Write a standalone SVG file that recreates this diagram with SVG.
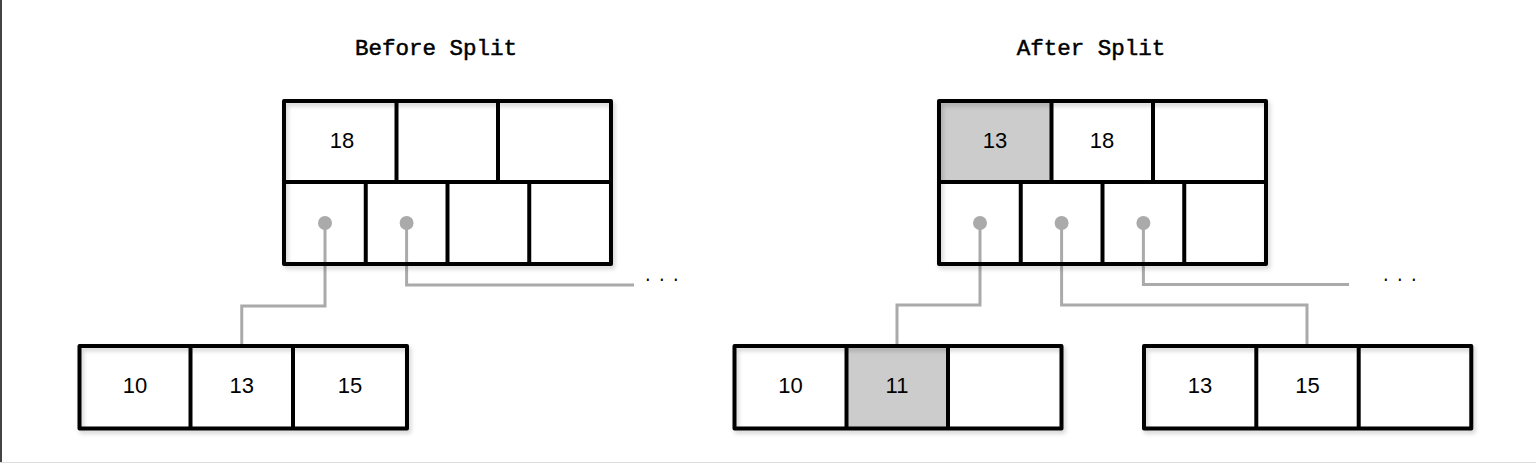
<svg xmlns="http://www.w3.org/2000/svg" width="1536" height="464" viewBox="0 0 1536 464">
<defs>
<filter id="sh" x="-5%" y="-5%" width="115%" height="120%">
<feDropShadow dx="2" dy="3" stdDeviation="2" flood-color="#000" flood-opacity="0.18"/>
</filter>
<style>
.box{fill:none;stroke:#000;stroke-width:4;stroke-linejoin:round}
.ln{stroke:#000;stroke-width:4}
.hl{fill:#cccccc;stroke:none}
.conn{fill:none;stroke:#aaaaaa;stroke-width:3}
.dot{fill:#aaaaaa}
.num{font-family:"Liberation Sans",Arial,sans-serif;font-size:22px;fill:#000;text-anchor:middle}
.title{font-family:"Liberation Mono","DejaVu Sans Mono",monospace;font-size:22.5px;fill:#000;stroke:#000;stroke-width:0.5;text-anchor:middle}
.ell{font-family:"Liberation Mono",monospace;font-size:16px;fill:#000;letter-spacing:4.4px}
</style>
</defs>
<rect width="1536" height="464" fill="#fff"/>
<line x1="1" y1="0" x2="1" y2="463" stroke="#444" stroke-width="2"/>
<line x1="0" y1="462.5" x2="1536" y2="462.5" stroke="#ddd" stroke-width="1"/>

<text class="title" x="436" y="55">Before Split</text>
<text class="title" x="1091" y="55">After Split</text>

<g id="connectors">
<path class="conn" d="M325 223 V306 H241.75 V346"/>
<path class="conn" d="M406.6 223 V285 H634"/>
<circle class="dot" cx="325" cy="223" r="7"/>
<circle class="dot" cx="406.6" cy="223" r="7"/>
<path class="conn" d="M980 223 V305 H897 V346"/>
<path class="conn" d="M1061.6 223 V305 H1307 V346"/>
<path class="conn" d="M1143.4 223 V284.5 H1349"/>
<circle class="dot" cx="980" cy="223" r="7"/>
<circle class="dot" cx="1061.6" cy="223" r="7"/>
<circle class="dot" cx="1143.4" cy="223" r="7"/>
<text class="ell" x="643" y="280.5">...</text>
<text class="ell" x="1381" y="280.5">...</text>
</g>

<g id="before-root">
<rect class="box" x="284" y="101" width="327" height="163" filter="url(#sh)"/>
<line class="ln" x1="284" y1="182" x2="611" y2="182"/>
<line class="ln" x1="396.5" y1="101" x2="396.5" y2="182"/>
<line class="ln" x1="498" y1="101" x2="498" y2="182"/>
<line class="ln" x1="365.75" y1="182" x2="365.75" y2="264"/>
<line class="ln" x1="447.5" y1="182" x2="447.5" y2="264"/>
<line class="ln" x1="529.25" y1="182" x2="529.25" y2="264"/>
<text class="num" x="342" y="147.7">18</text>
</g>

<g id="before-leaf">
<rect class="box" x="79.5" y="346" width="327.5" height="82.5" filter="url(#sh)"/>
<line class="ln" x1="190.5" y1="346" x2="190.5" y2="428.5"/>
<line class="ln" x1="293" y1="346" x2="293" y2="428.5"/>
<text class="num" x="135" y="393">10</text>
<text class="num" x="241.75" y="393">13</text>
<text class="num" x="350" y="393">15</text>
</g>

<g id="after-root">
<rect class="hl" x="939" y="101" width="112.5" height="81"/>
<rect class="box" x="939" y="101" width="327" height="163" filter="url(#sh)"/>
<line class="ln" x1="939" y1="182" x2="1266" y2="182"/>
<line class="ln" x1="1051.5" y1="101" x2="1051.5" y2="182"/>
<line class="ln" x1="1153" y1="101" x2="1153" y2="182"/>
<line class="ln" x1="1020.75" y1="182" x2="1020.75" y2="264"/>
<line class="ln" x1="1102.5" y1="182" x2="1102.5" y2="264"/>
<line class="ln" x1="1184.25" y1="182" x2="1184.25" y2="264"/>
<text class="num" x="995" y="147.7">13</text>
<text class="num" x="1102" y="147.7">18</text>
</g>

<g id="after-leaf-left">
<rect class="hl" x="846.5" y="346" width="101.5" height="82.5"/>
<rect class="box" x="734.5" y="346" width="327" height="82.5" filter="url(#sh)"/>
<line class="ln" x1="846.5" y1="346" x2="846.5" y2="428.5"/>
<line class="ln" x1="948" y1="346" x2="948" y2="428.5"/>
<text class="num" x="790.5" y="393">10</text>
<text class="num" x="897" y="393">11</text>
</g>

<g id="after-leaf-right">
<rect class="box" x="1144" y="346" width="327.3" height="82.5" filter="url(#sh)"/>
<line class="ln" x1="1256.3" y1="346" x2="1256.3" y2="428.5"/>
<line class="ln" x1="1358.7" y1="346" x2="1358.7" y2="428.5"/>
<text class="num" x="1200" y="393">13</text>
<text class="num" x="1307.5" y="393">15</text>
</g>
</svg>
